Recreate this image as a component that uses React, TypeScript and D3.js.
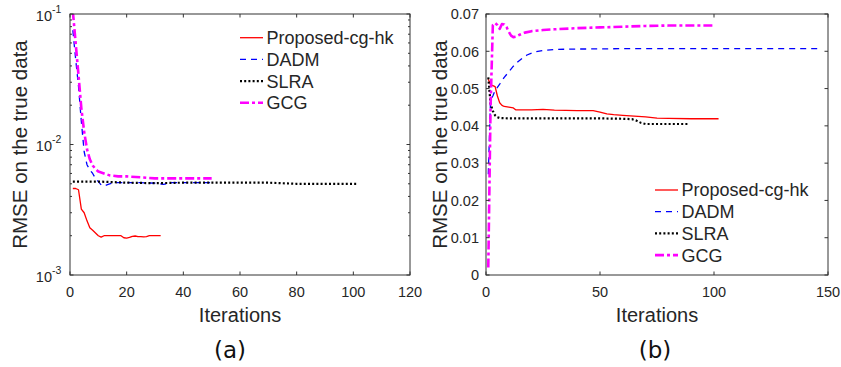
import * as d3 from "d3";

// ---- panel (a): log scale RMSE ----
const redAIter = [1, 2, 3, 4, 5, 6, 7, 8, 9, 10, 11, 12, 13, 14, 15, 16, 17, 18, 19, 20, 21, 22, 23, 24, 25, 26, 27, 28, 29, 30, 31, 32];
const redAVal = [0.0046, 0.0046, 0.0045, 0.0032, 0.003, 0.0026, 0.0023, 0.0022, 0.0021, 0.002, 0.00195, 0.002, 0.002, 0.002, 0.002, 0.002, 0.002, 0.002, 0.00193, 0.00192, 0.00194, 0.00198, 0.00199, 0.00197, 0.00197, 0.00196, 0.00197, 0.002, 0.002, 0.002, 0.002, 0.002];

const dadmAIter = [1, 2, 3, 4, 5, 6, 7, 8, 9, 10, 11, 12, 13, 14, 16, 18, 20, 25, 30, 33, 36, 40, 45, 50];
const dadmAVal = [0.075, 0.045, 0.028, 0.015, 0.0088, 0.007, 0.0064, 0.006, 0.0055, 0.0052, 0.0049, 0.0048, 0.0049, 0.005, 0.0051, 0.0051, 0.0051, 0.0051, 0.00505, 0.00495, 0.0051, 0.0051, 0.0051, 0.0051];

const slraAIter = [1, 10, 20, 30, 40, 50, 60, 70, 80, 90, 101];
const slraAVal = [0.0052, 0.0052, 0.0051, 0.00505, 0.0051, 0.0051, 0.0051, 0.0051, 0.005, 0.005, 0.005];

const gcgAIter = [1, 2, 3, 4, 5, 6, 7, 8, 9, 10, 11, 12, 14, 17, 20, 25, 30, 35, 40, 45, 50];
const gcgAVal = [0.105, 0.06, 0.034, 0.019, 0.0125, 0.0092, 0.0077, 0.0069, 0.0065, 0.0062, 0.0061, 0.006, 0.0058, 0.0057, 0.0057, 0.0056, 0.0055, 0.0055, 0.0055, 0.0055, 0.0055];

// ---- panel (b): linear RMSE ----
const redBIter = [1, 2, 3, 4, 5, 6, 7, 8, 10, 12, 13, 20, 25, 30, 40, 47, 50, 53, 56, 60, 65, 70, 75, 80, 90, 102];
const redBVal = [0.0525, 0.051, 0.0508, 0.0505, 0.048, 0.0462, 0.0455, 0.0452, 0.045, 0.0448, 0.0443, 0.0443, 0.0444, 0.0442, 0.0441, 0.0441, 0.0437, 0.0432, 0.043, 0.0428, 0.0426, 0.0424, 0.0421, 0.042, 0.0419, 0.0419];

const dadmBIter = [1, 2, 3, 4, 6, 8, 10, 12, 14, 16, 18, 20, 22, 25, 30, 40, 60, 80, 100, 120, 147];
const dadmBVal = [0.027, 0.047, 0.048, 0.0495, 0.0512, 0.053, 0.0545, 0.056, 0.0572, 0.0582, 0.059, 0.0595, 0.0599, 0.0602, 0.0605, 0.0606, 0.0607, 0.0607, 0.0607, 0.0607, 0.0607];

const slraBIter = [1, 2, 3, 4, 5, 6, 10, 20, 30, 40, 50, 60, 64, 66, 68, 70, 80, 89];
const slraBVal = [0.053, 0.046, 0.044, 0.0428, 0.0423, 0.0421, 0.042, 0.042, 0.042, 0.042, 0.042, 0.0419, 0.0418, 0.0414, 0.0408, 0.0405, 0.0405, 0.0405];

const gcgBIter = [1, 2, 3, 4, 5, 6, 7, 8, 9, 10, 11, 12, 13, 15, 17, 20, 25, 30, 40, 50, 60, 70, 80, 90, 100];
const gcgBVal = [0.002, 0.045, 0.067, 0.0676, 0.067, 0.066, 0.0673, 0.0672, 0.0665, 0.0652, 0.0642, 0.0638, 0.0639, 0.0645, 0.065, 0.0654, 0.0657, 0.0659, 0.0662, 0.0664, 0.0666, 0.0668, 0.0669, 0.0669, 0.0669];

const xTicksA = [0, 20, 40, 60, 80, 100, 120];
const xTicksB = [0, 50, 100, 150];
const yTicksA = [1e-3, 1e-2, 1e-1];
const yTicksB = [0, 0.01, 0.02, 0.03, 0.04, 0.05, 0.06, 0.07];

const seriesNames = ["Proposed-cg-hk", "DADM", "SLRA", "GCG"];

const STYLES = [
  { color: "#ff0000", width: 1.3, dash: "" },
  { color: "#0000ff", width: 1.3, dash: "6,5" },
  { color: "#000000", width: 2.2, dash: "2,2.2" },
  { color: "#ff00ff", width: 2.6, dash: "9,3,3,3" },
];

const AX = "#333333";
const TXT = "#262626";
const FONT = "'Liberation Sans', Arial, Helvetica, sans-serif";

function Lines({ x, y, series, clipId }: any) {
  const line = d3
    .line<[number, number]>()
    .x((d) => x(d[0]))
    .y((d) => y(d[1]));
  return (
    <g clipPath={`url(#${clipId})`}>
      {series.map((s: any, i: number) => (
        <path
          key={i}
          d={line(s.iter.map((t: number, k: number) => [t, s.val[k]]) as any) || ""}
          fill="none"
          stroke={STYLES[i].color}
          strokeWidth={STYLES[i].width}
          strokeDasharray={STYLES[i].dash || undefined}
          strokeLinejoin="round"
        />
      ))}
    </g>
  );
}

function Legend({ x0, y0 }: { x0: number; y0: number }) {
  return (
    <g>
      {seriesNames.map((n, i) => (
        <g key={n} transform={`translate(${x0},${y0 + i * 21.7})`}>
          <line
            x1={0}
            x2={23}
            y1={0}
            y2={0}
            stroke={STYLES[i].color}
            strokeWidth={STYLES[i].width}
            strokeDasharray={STYLES[i].dash || undefined}
          />
          <text x={26.5} dy="0.36em" fontSize={18} fill={TXT} fontFamily={FONT}>
            {n}
          </text>
        </g>
      ))}
    </g>
  );
}

function PanelA() {
  const L = 70, R = 410, T = 14, B = 275;
  const x = d3.scaleLinear().domain([0, 120]).range([L, R]);
  const y = d3.scaleLog().domain([1e-3, 1e-1]).range([B, T]);
  const minor: number[] = [];
  [1e-3, 1e-2].forEach((dec) => {
    for (let m = 2; m <= 9; m++) minor.push(dec * m);
  });
  return (
    <g>
      <defs>
        <clipPath id="clipA">
          <rect x={L} y={T} width={R - L} height={B - T} />
        </clipPath>
      </defs>
      <Lines
        x={x}
        y={y}
        clipId="clipA"
        series={[
          { iter: redAIter, val: redAVal },
          { iter: dadmAIter, val: dadmAVal },
          { iter: slraAIter, val: slraAVal },
          { iter: gcgAIter, val: gcgAVal },
        ]}
      />
      <rect x={L} y={T} width={R - L} height={B - T} fill="none" stroke={AX} strokeWidth={1} />
      {xTicksA.map((t) => (
        <g key={t}>
          <line x1={x(t)} x2={x(t)} y1={B} y2={B - 3.5} stroke={AX} />
          <line x1={x(t)} x2={x(t)} y1={T} y2={T + 3.5} stroke={AX} />
          <text x={x(t)} y={297} textAnchor="middle" fontSize={14.5} fill={TXT} fontFamily={FONT}>
            {t}
          </text>
        </g>
      ))}
      {minor.map((t) => (
        <g key={t}>
          <line x1={L} x2={L + 2} y1={y(t)} y2={y(t)} stroke={AX} />
          <line x1={R} x2={R - 2} y1={y(t)} y2={y(t)} stroke={AX} />
        </g>
      ))}
      {yTicksA.map((t) => (
        <g key={t}>
          <line x1={L} x2={L + 3.5} y1={y(t)} y2={y(t)} stroke={AX} />
          <line x1={R} x2={R - 3.5} y1={y(t)} y2={y(t)} stroke={AX} />
          <text x={52} y={y(t) + 6.5} textAnchor="end" fontSize={14.5} fill={TXT} fontFamily={FONT}>
            10
          </text>
          <text x={52} y={y(t) - 1.5} fontSize={10.5} fill={TXT} fontFamily={FONT}>
            {`-${Math.round(-Math.log10(t))}`}
          </text>
        </g>
      ))}
      <Legend x0={240} y0={37.7} />
      <text
        transform={`translate(27,${(T + B) / 2}) rotate(-90)`}
        textAnchor="middle"
        fontSize={20.5}
        fill={TXT}
        fontFamily={FONT}
      >
        RMSE on the true data
      </text>
      <text x={(L + R) / 2} y={322} textAnchor="middle" fontSize={20} fill={TXT} fontFamily={FONT}>
        Iterations
      </text>
      <text x={230} y={358} textAnchor="middle" fontSize={23} fill="#111" fontFamily="'DejaVu Sans', sans-serif">
        (a)
      </text>
    </g>
  );
}

function PanelB() {
  const L = 486, R = 828, T = 14, B = 275;
  const x = d3.scaleLinear().domain([0, 150]).range([L, R]);
  const y = d3.scaleLinear().domain([0, 0.07]).range([B, T]);
  return (
    <g>
      <defs>
        <clipPath id="clipB">
          <rect x={L} y={T} width={R - L} height={B - T} />
        </clipPath>
      </defs>
      <Lines
        x={x}
        y={y}
        clipId="clipB"
        series={[
          { iter: redBIter, val: redBVal },
          { iter: dadmBIter, val: dadmBVal },
          { iter: slraBIter, val: slraBVal },
          { iter: gcgBIter, val: gcgBVal },
        ]}
      />
      <rect x={L} y={T} width={R - L} height={B - T} fill="none" stroke={AX} strokeWidth={1} />
      {xTicksB.map((t) => (
        <g key={t}>
          <line x1={x(t)} x2={x(t)} y1={B} y2={B - 3.5} stroke={AX} />
          <line x1={x(t)} x2={x(t)} y1={T} y2={T + 3.5} stroke={AX} />
          <text x={x(t)} y={297} textAnchor="middle" fontSize={14.5} fill={TXT} fontFamily={FONT}>
            {t}
          </text>
        </g>
      ))}
      {yTicksB.map((t) => (
        <g key={t}>
          <line x1={L} x2={L + 3.5} y1={y(t)} y2={y(t)} stroke={AX} />
          <line x1={R} x2={R - 3.5} y1={y(t)} y2={y(t)} stroke={AX} />
          <text x={L - 7} y={y(t)} dy="0.36em" textAnchor="end" fontSize={14.5} fill={TXT} fontFamily={FONT}>
            {String(+t.toFixed(2))}
          </text>
        </g>
      ))}
      <Legend x0={655} y0={190} />
      <text
        transform={`translate(446.5,${(T + B) / 2}) rotate(-90)`}
        textAnchor="middle"
        fontSize={20.5}
        fill={TXT}
        fontFamily={FONT}
      >
        RMSE on the true data
      </text>
      <text x={(L + R) / 2} y={322} textAnchor="middle" fontSize={20} fill={TXT} fontFamily={FONT}>
        Iterations
      </text>
      <text x={655} y={358} textAnchor="middle" fontSize={23} fill="#111" fontFamily="'DejaVu Sans', sans-serif">
        (b)
      </text>
    </g>
  );
}

export default function App() {
  return (
    <svg
      width={841}
      height={367}
      style={{ position: "absolute", left: 0, top: 0, display: "block", background: "#fff" }}
    >
      <rect width={841} height={367} fill="#fff" />
      <PanelA />
      <PanelB />
    </svg>
  );
}
